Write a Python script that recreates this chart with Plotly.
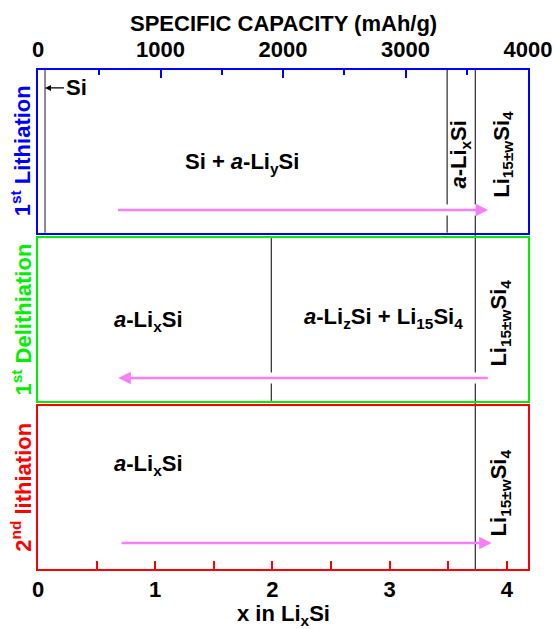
import plotly.graph_objects as go

FONT = "Liberation Sans, Arial, sans-serif"
BLUE = "#0000FF"
GREEN = "#00EE00"
RED = "#FF0000"
VIOLET = "#F77EF7"
FS = 22

# ---- data (x in LixSi unless noted) ----
x_range = [0, 4.18]
cap_range = [0, 4000]          # specific capacity, mAh/g
cap_dtick = 1000
x_dtick = 1
top_title = "SPECIFIC CAPACITY (mAh/g)"
bottom_title = "x in Li<sub>x</sub>Si"

si_line_x = 0.06
lith1_boundary_x = 3.49
delith_boundary_x = 1.99
li15_boundary_x = 3.73

panel_names = ["1<sup>st</sup> Lithiation", "1<sup>st</sup> Delithiation", "2<sup>nd</sup> lithiation"]
panel_colors = [BLUE, GREEN, RED]

arrow_start = [0.67, 3.85, 0.70]
arrow_end = [3.84, 0.685, 3.87]
arrow_y = [0.14, 0.14, 0.16]
arrow_gap = [True, True, False]

# phase labels: (panel, x, y, text, angle)
labels_panel = [0, 0, 0, 1, 1, 1, 2, 2]
labels_x = [1.74, 3.60, 3.96, 0.945, 2.95, 3.94, 0.945, 3.94]
labels_y = [0.43, 0.48, 0.48, 0.49, 0.51, 0.48, 0.64, 0.47]
labels_text = [
    "Si + <i>a</i>-Li<sub>y</sub>Si",
    "<i>a</i>-Li<sub>x</sub>Si",
    "Li<sub>15±w</sub>Si<sub>4</sub>",
    "<i>a</i>-Li<sub>x</sub>Si",
    "<i>a</i>-Li<sub>z</sub>Si + Li<sub>15</sub>Si<sub>4</sub>",
    "Li<sub>15±w</sub>Si<sub>4</sub>",
    "<i>a</i>-Li<sub>x</sub>Si",
    "Li<sub>15±w</sub>Si<sub>4</sub>",
]
labels_angle = [0, -90, -90, 0, 0, -90, 0, -90]

domains = [[0.674, 1.0], [0.337, 0.663], [0.0, 0.326]]
xa = ["x", "x2", "x3"]
ya = ["y", "y2", "y3"]

fig = go.Figure()

# invisible trace to carry the capacity axis
fig.add_trace(go.Scatter(x=cap_range, y=[-1, -1], xaxis="x4", yaxis="y",
                         mode="markers", marker=dict(opacity=0), hoverinfo="skip",
                         showlegend=False))

# white underlays where arrows interrupt the phase lines
for i in range(3):
    if arrow_gap[i]:
        fig.add_trace(go.Scatter(x=[arrow_start[i], arrow_end[i]], y=[arrow_y[i], arrow_y[i]],
                                 xaxis=xa[i], yaxis=ya[i], mode="lines",
                                 line=dict(color="white", width=11),
                                 hoverinfo="skip", showlegend=False))

bold = lambda size=FS, color="black": dict(family=FONT, size=size, color=color, weight="bold")

layout = dict(
    width=554, height=629,
    margin=dict(l=38, r=26, t=70, b=60, autoexpand=False),
    paper_bgcolor="white", plot_bgcolor="white",
    showlegend=False,
    font=bold(),
)

for i in range(3):
    key_x = "xaxis" if i == 0 else f"xaxis{i+1}"
    key_y = "yaxis" if i == 0 else f"yaxis{i+1}"
    layout[key_x] = dict(domain=[0, 1], range=x_range, anchor=ya[i], automargin=False,
                         showline=True, linecolor=panel_colors[i], linewidth=2, mirror=True,
                         showgrid=False, zeroline=False, showticklabels=False, ticks="")
    layout[key_y] = dict(domain=domains[i], range=[0, 1], anchor=xa[i], automargin=False,
                         showline=True, linecolor=panel_colors[i], linewidth=2, mirror=True,
                         showgrid=False, zeroline=False, showticklabels=False, ticks="")

layout["xaxis3"].update(ticks="inside", tick0=0, dtick=x_dtick, ticklen=8, tickwidth=2,
                        tickcolor=RED, showticklabels=True, tickfont=bold(),
                        minor=dict(dtick=0.5, ticks="inside", ticklen=8, tickwidth=2,
                                   tickcolor=RED, showgrid=False))

layout["xaxis4"] = dict(overlaying="x", anchor="y", side="top", range=cap_range, automargin=False,
                        tick0=0, dtick=cap_dtick, ticks="inside", ticklen=8, tickwidth=2,
                        tickcolor=BLUE, showline=False, showgrid=False, zeroline=False,
                        tickfont=bold(), ticklabelstandoff=8,
                        minor=dict(dtick=500, ticks="inside", ticklen=5, tickwidth=2,
                                   tickcolor=BLUE, showgrid=False))

fig.update_layout(**layout)

# phase boundary lines
shapes = [
    dict(type="line", xref="x", yref="y domain", x0=si_line_x, x1=si_line_x, y0=0, y1=1,
         line=dict(color="#666666", width=1.5), layer="below"),
    dict(type="line", xref="x", yref="y domain", x0=lith1_boundary_x, x1=lith1_boundary_x,
         y0=0, y1=1, line=dict(color="black", width=1), layer="below"),
    dict(type="line", xref="x2", yref="y2 domain", x0=delith_boundary_x, x1=delith_boundary_x,
         y0=0, y1=1, line=dict(color="black", width=1), layer="below"),
    dict(type="line", xref="x", yref="paper", x0=li15_boundary_x, x1=li15_boundary_x,
         y0=0, y1=1, line=dict(color="black", width=1), layer="below"),
]
fig.update_layout(shapes=shapes)

ann = []
# axis titles
ann.append(dict(x=0.5, y=1, xref="paper", yref="paper", text=top_title, showarrow=False,
                xanchor="center", yanchor="middle", yshift=47, font=bold()))
ann.append(dict(x=0.5, y=0, xref="paper", yref="paper", text=bottom_title, showarrow=False,
                xanchor="center", yanchor="middle", yshift=-46, font=bold()))
# process arrows
for i in range(3):
    ann.append(dict(x=arrow_end[i], y=arrow_y[i], ax=arrow_start[i], ay=arrow_y[i],
                    xref=xa[i], yref=ya[i], axref=xa[i], ayref=ya[i], text="",
                    showarrow=True, arrowhead=2, arrowsize=1, arrowwidth=2.5,
                    arrowcolor=VIOLET, standoff=0, startstandoff=0))
# Si marker
ann.append(dict(x=si_line_x, y=0.89, xref="x", yref="y", text="Si", showarrow=True,
                ax=31, ay=0, arrowhead=2, arrowsize=1, arrowwidth=1.2, arrowcolor="black",
                standoff=0, font=bold()))
# phase labels
for p, x, y, t, a in zip(labels_panel, labels_x, labels_y, labels_text, labels_angle):
    ann.append(dict(x=x, y=y, xref=xa[p], yref=ya[p], text=t, textangle=a, showarrow=False,
                    xanchor="center", yanchor="middle", font=bold()))
# panel names
for i in range(3):
    ann.append(dict(x=0, y=0.5, xref="paper", yref=f"{ya[i]} domain", text=panel_names[i],
                    textangle=-90, showarrow=False, xanchor="center", yanchor="middle",
                    xshift=-17, font=bold(FS, panel_colors[i])))
fig.update_layout(annotations=ann)

fig.write_html("out.html")
